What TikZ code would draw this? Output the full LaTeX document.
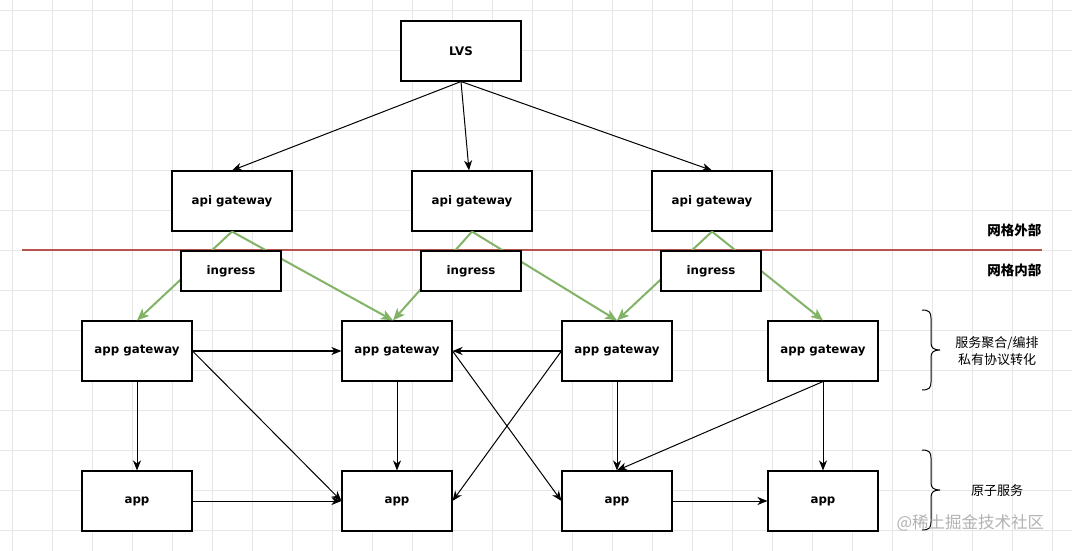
\documentclass[tikz,border=0pt]{standalone}
\usepackage{fontspec}
\setmainfont{DejaVu Sans}
\newfontfamily\cjk{Noto Sans CJK SC}
\usetikzlibrary{arrows.meta}
\definecolor{gridc}{HTML}{E6E6E6}
\definecolor{redline}{HTML}{B85450}
\definecolor{greenline}{HTML}{82B366}
\tikzset{
  box/.style={draw=black, line width=1.1pt, fill=white, font=\bfseries\fontsize{11.8}{14}\selectfont, inner sep=0pt},
  bigbox/.style={box, minimum width=120pt, minimum height=60pt},
  ingbox/.style={box, minimum width=100pt, minimum height=40pt},
  appbox/.style={box, minimum width=110pt, minimum height=60pt},
  gridline/.style={draw=gridc, line width=0.8pt},
  tip/.style={-{Stealth[length=10pt,width=8pt,inset=3pt]}},
  conn/.style={tip, draw=black, line width=1pt},
  thickconn/.style={tip, draw=black, line width=2pt},
  greenconn/.style={-{Stealth[length=12pt,width=10pt,inset=3pt]}, draw=greenline, line width=2pt},
  zonelabel/.style={font=\cjk\bfseries\fontsize{13.5}{16}\selectfont},
  sidelabel/.style={font=\cjk\fontsize{13}{16.5}\selectfont, align=center},
  bracestyle/.style={draw=black, line width=1pt},
}
\begin{document}
\begin{tikzpicture}[x=1pt,y=-1pt]
\useasboundingbox (0,0) rectangle (1072,551);
\fill[white] (0,0) rectangle (1072,551);
\foreach \gx in {12,52,...,1052} \draw[gridline] (\gx,0) -- (\gx,551);
\foreach \gy in {10,50,...,550} \draw[gridline] (0,\gy) -- (1072,\gy);

% red boundary line
\coordinate (redL) at (22,250);
\coordinate (redR) at (1042,250);
\draw[draw=redline, line width=2pt] (redL) -- (redR);

% nodes
\node[bigbox] (lvs) at (461,51) {LVS};
\node[bigbox] (api1) at (232,201) {api gateway};
\node[bigbox] (api2) at (472,201) {api gateway};
\node[bigbox] (api3) at (712,201) {api gateway};

\node[appbox] (agw1) at (137,351) {app gateway};
\node[appbox] (agw2) at (397,351) {app gateway};
\node[appbox] (agw3) at (617,351) {app gateway};
\node[appbox] (agw4) at (823,351) {app gateway};

\node[appbox] (app1) at (137,501) {app};
\node[appbox] (app2) at (397,501) {app};
\node[appbox] (app3) at (617,501) {app};
\node[appbox] (app4) at (823,501) {app};

% green connectors (behind ingress)
\draw[greenconn] (api1.south) -- (agw1.north);
\draw[greenconn] (api1.south) -- ([xshift=-4pt]agw2.north);
\draw[greenconn] (api2.south) -- ([xshift=-4pt]agw2.north);
\draw[greenconn] (api2.south) -- (agw3.north);
\draw[greenconn] (api3.south) -- (agw3.north);
\draw[greenconn] (api3.south) -- (agw4.north);

\node[ingbox] (ing1) at (231,271) {ingress};
\node[ingbox] (ing2) at (471,271) {ingress};
\node[ingbox] (ing3) at (711,271) {ingress};

% LVS connectors
\draw[conn] (lvs.south) -- (api1.north);
\draw[conn] (lvs.south) -- ([xshift=-3pt]api2.north);
\draw[conn] (lvs.south) -- (api3.north);

% app gateway connectors
\draw[thickconn] (agw1.east) -- (agw2.west);
\draw[thickconn] (agw3.west) -- (agw2.east);
\draw[conn] (agw1.south) -- (app1.north);
\draw[conn] (agw1.east) -- (app2.west);
\draw[conn] (agw2.south) -- (app2.north);
\draw[conn] (agw2.east) -- (app3.west);
\draw[conn] (agw3.west) -- (app2.east);
\draw[conn] (agw3.south) -- (app3.north);
\draw[conn] (agw4.south) -- (app3.north);
\draw[conn] (agw4.south) -- (app4.north);
\draw[conn] (app1.east) -- (app2.west);
\draw[conn] (app3.east) -- (app4.west);

% zone labels
\node[zonelabel, anchor=east] (outer) at (1045,230) {网格外部};
\node[zonelabel, anchor=east] (inner) at (1045,270) {网格内部};

% braces
\draw[bracestyle] (922,310) .. controls (929,310) and (931,312) .. (931,318) -- (931,343)
  .. controls (931,348) and (934,350) .. (940,350) .. controls (934,350) and (931,352) .. (931,357)
  -- (931,382) .. controls (931,388) and (929,390) .. (922,390);
\draw[bracestyle] (922,450) .. controls (929,450) and (931,452) .. (931,458) -- (931,483)
  .. controls (931,488) and (934,490) .. (940,490) .. controls (934,490) and (931,492) .. (931,497)
  -- (931,522) .. controls (931,528) and (929,530) .. (922,530);

\node[sidelabel] (agwlabel) at (997,351) {服务聚合/编排\\私有协议转化};
\node[sidelabel] (applabel) at (997,491) {原子服务};

% watermark
\node[font=\cjk\fontsize{16.5}{18}\selectfont, text=black!30, anchor=west] (wm) at (893,523) {@稀土掘金技术社区};
\end{tikzpicture}
\end{document}
